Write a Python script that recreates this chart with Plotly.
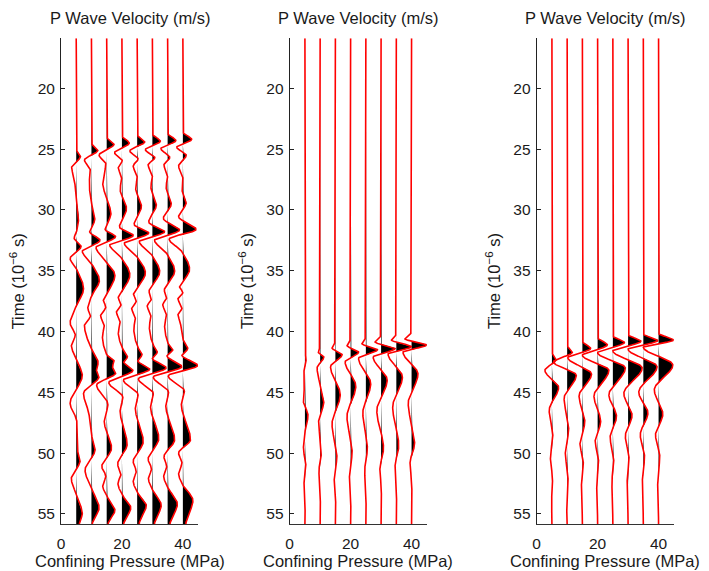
import numpy as np
import plotly.graph_objects as go

# ---------------- data ----------------
pressures = [5, 10, 15, 20, 25, 30, 35, 40]          # trace positions (MPa)
y_tick_vals = [20, 25, 30, 35, 40, 45, 50, 55]
x_tick_vals = [0, 20, 40]
panel_title = "P Wave Velocity (m/s)"
x_title = "Confining Pressure (MPa)"
y_title = "Time (10<sup>\u22126</sup> s)"
time_top, time_bottom = 15.89, 55.83

# (time 10^-6 s, deflection in MPa units) picks of each waveform's extrema
left_picks = [
    [(25.0,0),(25.6,1.4),(26.5,-1.5),(27.5,-0.6),(29.0,0),(30.6,0.8),(31.9,0),(32.3,-0.7),(33.0,1.6),(34.0,-2.0),(34.8,0),(36.5,2.4),(37.9,0),(39.3,-2.0),(40.3,-0.3),(41.1,-1.6),(42.3,0),(43.6,2.0),(45.9,-2.0),(47.4,0.2),(49.7,0.4),(50.6,1.3),(52.1,-1.6),(53.4,0),(55.0,2.0),(55.83,1.0)],
    [(24.5,0),(25.1,2.1),(25.9,-2.3),(26.7,-0.4),(27.8,-0.7),(28.9,-0.4),(30.8,1.1),(31.8,-0.6),(32.5,2.8),(33.4,-3.0),(34.4,0),(35.8,2.6),(37.1,0),(38.1,-1.2),(38.7,-0.3),(39.5,-2.3),(41.0,-0.8),(42.6,2.2),(43.1,1.6),(43.7,2.5),(45.1,-2.6),(46.8,-0.8),(48.3,-0.2),(49.7,1.2),(51.4,-2.1),(52.9,0),(54.5,2.5),(55.83,0.3)],
    [(24.0,0),(24.6,2.4),(25.5,-2.5),(26.2,-0.3),(27.8,-1.3),(28.9,-0.3),(30.3,1.4),(31.6,-0.5),(32.2,2.9),(33.1,-3.5),(34.1,-0.5),(35.4,2.7),(36.9,0),(37.4,-1.1),(38.0,-0.3),(38.7,-2.0),(39.5,-0.8),(40.4,-1.4),(41.9,0),(42.4,2.4),(42.9,1.9),(43.4,3.0),(44.4,-3.3),(46.0,0.4),(47.4,-0.8),(49.6,1.6),(51.1,-1.6),(51.9,-0.3),(52.7,-1.3),(53.5,0),(54.7,2.7),(55.83,0.5)],
    [(23.9,0),(24.5,2.4),(25.3,-2.4),(25.95,0.1),(26.5,-1.2),(27.4,-0.1),(28.3,-0.6),(29.9,1.5),(31.4,-0.8),(32.1,3.7),(32.9,-4.0),(33.8,-0.6),(35.35,2.6),(36.7,0),(37.2,-1.2),(37.8,-0.3),(38.4,-1.8),(39.2,-0.6),(40.1,-1.2),(41.3,0),(42.1,1.8),(42.5,0.6),(43.2,3.6),(44.2,-4.3),(45.4,0.3),(46.5,-0.6),(49.3,1.7),(50.9,-1.4),(51.7,-0.3),(52.5,-1.3),(53.4,0),(54.5,2.9),(55.83,0.6)],
    [(23.8,0),(24.4,2.5),(25.15,-2.4),(25.8,0.3),(26.4,-1.3),(27.3,0),(28.2,-0.5),(29.7,1.4),(31.2,-1.0),(31.9,3.8),(32.75,-4.2),(33.7,-0.5),(35.2,2.7),(36.4,0),(36.9,-1.2),(37.5,-0.3),(38.1,-1.8),(38.9,-0.6),(39.8,-1.1),(41.2,0),(41.9,1.6),(42.4,0.2),(43.1,4.1),(44.0,-4.5),(45.2,0.3),(46.3,-0.6),(49.05,2.0),(50.7,-1.3),(51.5,-0.3),(52.3,-1.3),(53.2,0),(54.3,3.0),(55.83,0.7)],
    [(23.75,0),(24.35,2.6),(25.05,-2.3),(25.7,0.8),(26.3,-1.4),(27.2,0),(28.1,-0.5),(29.6,1.3),(31.0,-1.2),(31.8,4.0),(32.6,-4.3),(33.6,-0.5),(35.1,2.4),(36.2,0),(36.7,-1.1),(37.3,-0.3),(37.9,-1.7),(38.7,-0.5),(39.6,-1.0),(41.0,0),(41.7,1.6),(42.2,0.0),(43.0,4.5),(43.9,-4.6),(45.1,0.3),(46.2,-0.6),(48.8,2.1),(50.5,-1.4),(51.3,-0.3),(52.1,-1.3),(53.0,0),(54.3,2.9),(55.83,0.7)],
    [(23.7,0),(24.3,2.7),(24.95,-2.2),(25.7,0.7),(26.3,-1.2),(27.2,0),(28.1,-0.5),(29.5,1.2),(30.7,-1.4),(31.65,3.9),(32.5,-4.3),(33.5,-0.5),(35.05,2.3),(36.1,0),(36.6,-1.1),(37.2,-0.3),(37.8,-1.6),(38.6,-0.4),(39.5,-1.0),(40.9,0),(41.5,1.7),(42.0,-0.2),(42.9,4.6),(43.75,-4.7),(45.0,0.3),(46.1,-0.6),(48.9,2.3),(50.3,-1.2),(51.1,-0.3),(51.9,-1.3),(52.8,0),(54.2,3.2),(55.83,0.8)],
    [(23.6,0),(24.2,2.9),(24.85,-2.0),(25.5,1.1),(26.4,-1.4),(27.3,0),(28.2,-0.4),(29.4,1.1),(30.55,-1.4),(31.6,4.3),(32.4,-4.5),(33.4,-0.4),(34.9,2.2),(35.9,0),(36.3,-1.1),(36.8,0),(37.3,-1.6),(38.1,-0.3),(38.6,-1.6),(39.3,-0.8),(40.5,-0.2),(41.4,1.6),(41.95,-0.3),(42.8,4.8),(43.65,-4.8),(44.9,0.5),(46.0,-0.5),(48.9,2.5),(50.0,-1.4),(50.8,-0.3),(51.7,-1.4),(52.5,-0.3),(53.9,3.3),(55.83,1.0)],
]

middle_picks = [
    [(41.6,0),(42.3,0.4),(43.0,-0.3),(44.6,-0.2),(45.6,-0.6),(46.9,1.0),(48.3,0),(49.7,-0.5),(50.9,0.3),(52.3,-0.3),(53.8,0.1)],
    [(41.2,0),(41.7,-0.6),(42.1,1.2),(43.0,-1.0),(44.4,0),(45.8,1.2),(47.4,-0.5),(48.4,-0.2),(49.9,0.4),(51.5,-0.4),(53.0,0.1)],
    [(40.8,0),(41.35,-1.1),(41.9,2.2),(42.9,-1.6),(45.2,1.6),(47.6,-1.1),(50.3,0.5),(52.0,-0.4),(53.6,0.1)],
    [(40.6,0),(41.15,-1.2),(41.7,2.6),(42.5,-1.8),(44.5,1.7),(47.0,-1.2),(49.9,0.5),(51.8,-0.4),(53.4,0.1)],
    [(40.45,0),(41.0,-1.3),(41.5,3.8),(42.2,-2.4),(44.3,1.6),(46.7,-1.0),(49.6,0.5),(51.5,-0.4),(53.2,0.1)],
    [(40.3,0),(40.85,-2.0),(41.4,4.6),(42.1,-2.6),(44.0,2.0),(46.5,-1.4),(49.6,0.8),(51.3,-0.4),(53.0,0.1)],
    [(40.2,0),(40.7,-1.6),(41.25,4.9),(41.85,-2.7),(43.75,2.0),(46.2,-1.2),(49.4,0.8),(51.0,-0.4),(52.8,0.1)],
    [(40.05,0),(40.6,-2.2),(41.1,5.0),(41.7,-2.8),(43.5,2.1),(45.9,-1.1),(49.2,1.0),(50.8,-0.5),(52.6,0.1)],
]

right_picks = [
    [(41.7,0),(42.3,1.4),(43.2,-2.3),(44.6,2.2),(46.5,-0.9),(48.5,0.3),(50.3,-0.5),(52.2,0.2),(54.0,-0.1)],
    [(41.1,0),(41.7,1.7),(42.5,-4.5),(43.6,3.0),(45.5,-1.0),(48.0,0.5),(50.0,-0.6),(52.0,0.3),(54.0,-0.2)],
    [(40.8,0),(41.4,2.7),(42.15,-4.8),(43.5,3.0),(45.3,-1.1),(47.4,0.8),(49.2,-0.8),(50.8,0.3),(52.6,-0.3)],
    [(40.5,0),(41.1,3.2),(41.95,-5.0),(43.2,3.7),(45.3,-1.2),(47.4,1.0),(49.0,-0.8),(50.6,0.3),(52.5,-0.3)],
    [(40.35,0),(40.9,3.8),(41.75,-5.0),(43.0,4.1),(45.2,-1.3),(47.0,1.2),(48.7,-0.9),(50.5,0.3),(52.4,-0.3)],
    [(40.25,0),(40.8,4.2),(41.6,-5.0),(43.0,4.6),(45.1,-1.4),(46.9,1.3),(48.6,-0.9),(50.4,0.3),(52.3,-0.3)],
    [(40.2,0),(40.75,4.7),(41.45,-5.0),(42.9,4.5),(45.0,-1.5),(46.7,1.5),(48.5,-1.0),(50.3,0.4),(52.2,-0.3)],
    [(40.15,0),(40.7,4.9),(41.3,-5.0),(42.75,4.7),(44.8,-1.4),(46.8,1.4),(48.5,-1.0),(50.3,0.4),(52.2,-0.3)],
]

# ---------------- helpers ----------------
def pchip(xk, yk, x):
    xk = np.asarray(xk, float); yk = np.asarray(yk, float)
    h = np.diff(xk); delta = np.diff(yk) / h
    n = len(xk); m = np.zeros(n)
    for i in range(1, n - 1):
        if delta[i - 1] * delta[i] > 0:
            w1 = 2 * h[i] + h[i - 1]; w2 = h[i] + 2 * h[i - 1]
            m[i] = (w1 + w2) / (w1 / delta[i - 1] + w2 / delta[i])
    idx = np.clip(np.searchsorted(xk, x) - 1, 0, n - 2)
    hh = h[idx]; s = (x - xk[idx]) / hh
    h00 = 2 * s**3 - 3 * s**2 + 1; h10 = s**3 - 2 * s**2 + s
    h01 = -2 * s**3 + 3 * s**2; h11 = s**3 - s**2
    return h00 * yk[idx] + h10 * hh * m[idx] + h01 * yk[idx + 1] + h11 * hh * m[idx + 1]

def waveform(picks):
    pts = list(picks)
    if pts[0][0] > time_top:
        pts = [(time_top, 0.0)] + pts
    if pts[-1][0] < time_bottom:
        pts = pts + [(time_bottom, 0.0)]
    tk = [p[0] for p in pts]; dk = [p[1] for p in pts]
    t = np.linspace(time_top, time_bottom, 2400)
    return t, pchip(tk, dk, t)

# ---------------- figure ----------------
W, H = 709, 571
axis_left_px = [57.3, 287.3, 535.7]
axis_w_px = 137.9
plot_top_px, plot_bot_px = 38.3, 524.0
fnt = "Liberation Sans, Arial, Helvetica, sans-serif"
txt_col = "#1a1a1a"
tick_size = 15.5
label_size = 16.5

fig = go.Figure()
panels = [left_picks, middle_picks, right_picks]
for p, picks in enumerate(panels):
    xa = "x" if p == 0 else f"x{p+1}"
    ya = "y" if p == 0 else f"y{p+1}"
    curves = []
    for k, pk in enumerate(picks):
        t, d = waveform(pk)
        x0 = pressures[k]
        pos = x0 + np.clip(d, 0, None)
        fig.add_trace(go.Scatter(
            x=np.concatenate([pos, np.full_like(t, x0)]),
            y=np.concatenate([t, t[::-1]]),
            fill="toself", fillcolor="black", mode="lines",
            line=dict(width=0, color="black"), hoverinfo="skip",
            showlegend=False, xaxis=xa, yaxis=ya))
        curves.append((x0 + d, t))
    for xs, ts in curves:
        fig.add_trace(go.Scatter(
            x=xs, y=ts, mode="lines", line=dict(color="#ff0000", width=1.6),
            hoverinfo="skip", showlegend=False, xaxis=xa, yaxis=ya))

layout = dict(width=W, height=H, margin=dict(l=0, r=0, t=0, b=0),
              paper_bgcolor="white", plot_bgcolor="white", showlegend=False,
              font=dict(family=fnt, size=tick_size, color=txt_col))
annotations = []
ydom = [1 - plot_bot_px / H, 1 - plot_top_px / H]
for p in range(3):
    x0 = axis_left_px[p] / W
    x1 = (axis_left_px[p] + axis_w_px) / W
    xkey = "xaxis" if p == 0 else f"xaxis{p+1}"
    ykey = "yaxis" if p == 0 else f"yaxis{p+1}"
    ya = "y" if p == 0 else f"y{p+1}"
    xa = "x" if p == 0 else f"x{p+1}"
    layout[xkey] = dict(domain=[x0, x1], range=[0, 45], anchor=ya,
                        tickvals=x_tick_vals, ticks="", showgrid=False,
                        zeroline=False, showline=True, linecolor="#333333",
                        linewidth=1, ticklabelstandoff=5,
                        tickfont=dict(family=fnt, size=tick_size, color=txt_col))
    layout[ykey] = dict(domain=ydom, range=[time_bottom, time_top], anchor=xa,
                        tickvals=y_tick_vals, ticks="inside", ticklen=4,
                        tickcolor="#222222", showgrid=False, zeroline=False,
                        showline=True, linecolor="#222222", linewidth=1,
                        ticklabelstandoff=2,
                        tickfont=dict(family=fnt, size=tick_size, color=txt_col))
    cx = (x0 + x1) / 2
    annotations.append(dict(text=panel_title, x=cx, y=1 - 17.5 / H, xref="paper",
                            yref="paper", showarrow=False, xanchor="center",
                            yanchor="middle", font=dict(family=fnt, size=label_size, color=txt_col)))
    annotations.append(dict(text=x_title, x=cx, y=1 - 561 / H, xref="paper",
                            yref="paper", showarrow=False, xanchor="center",
                            yanchor="middle", font=dict(family=fnt, size=label_size, color=txt_col)))
    annotations.append(dict(text=y_title, x=(axis_left_px[p] - 44) / W,
                            y=(ydom[0] + ydom[1]) / 2, xref="paper", yref="paper",
                            showarrow=False, xanchor="center", yanchor="middle",
                            textangle=-90, font=dict(family=fnt, size=label_size, color=txt_col)))
layout["annotations"] = annotations
fig.update_layout(**layout)
fig.write_html("out.html", config={"displayModeBar": False},
               post_script="document.body.style.margin='0';document.body.style.overflow='hidden';")
